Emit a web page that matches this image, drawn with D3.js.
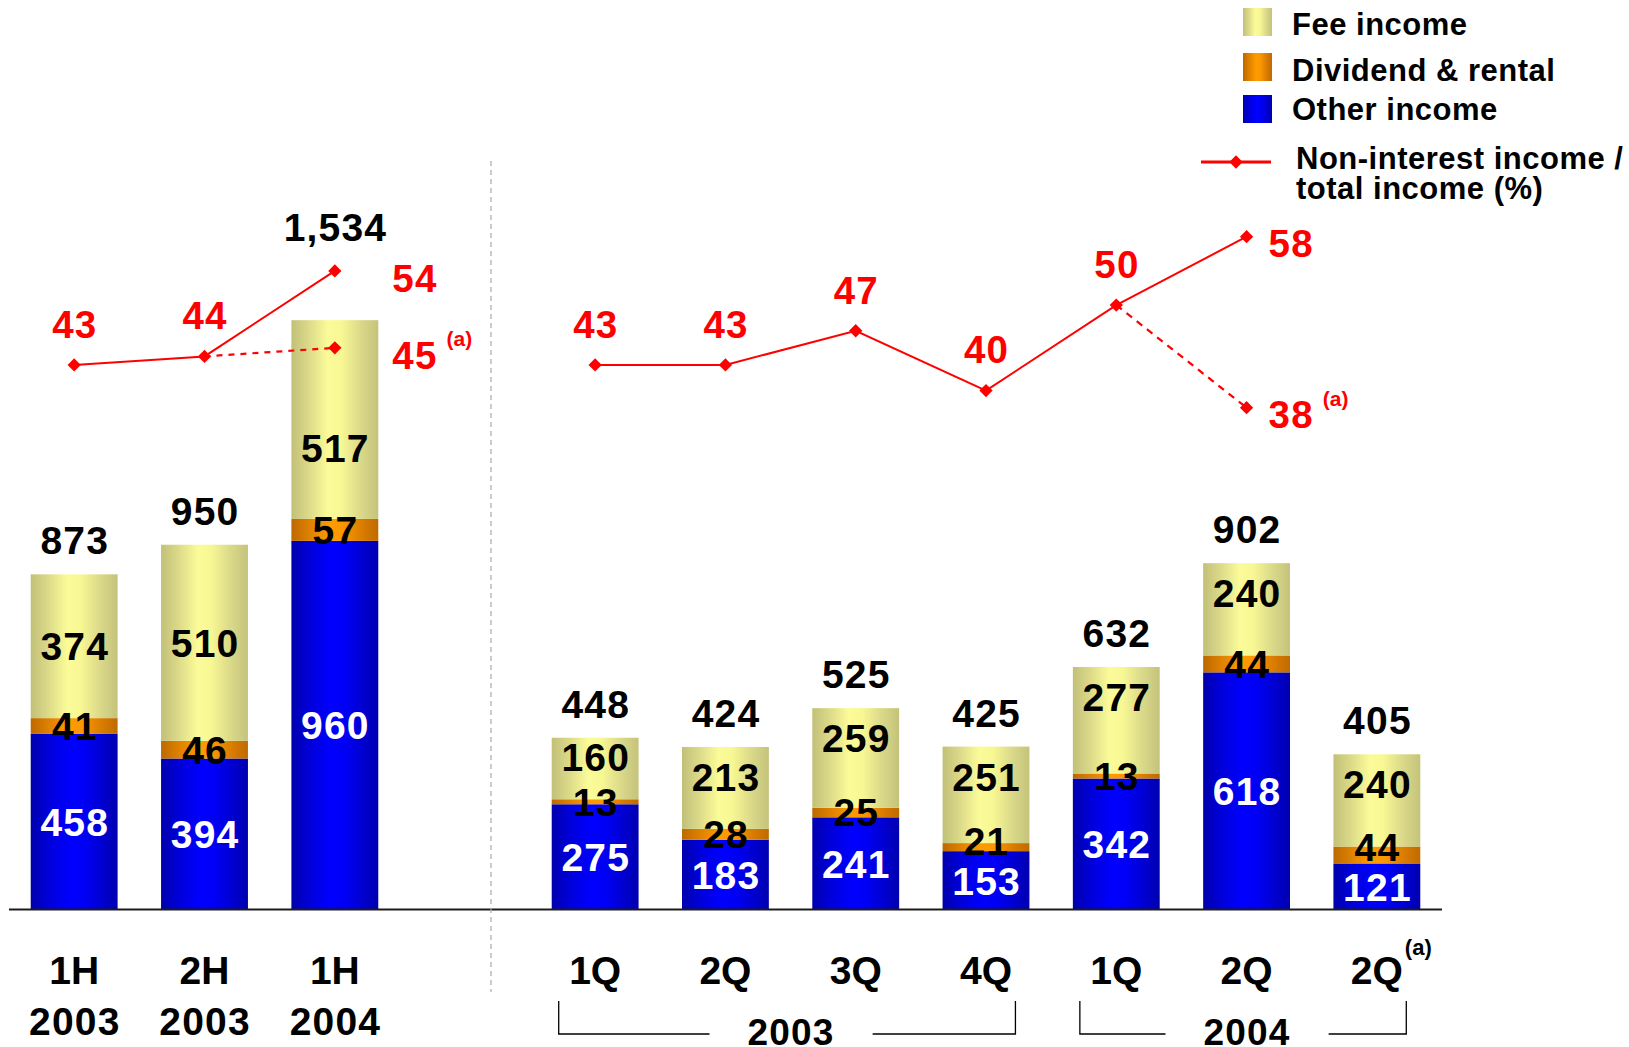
<!DOCTYPE html>
<html>
<head>
<meta charset="utf-8">
<script src="https://cdn.jsdelivr.net/npm/d3@7"></script>
<style>
  html, body { margin: 0; padding: 0; background: #fff; }
  svg { display: block; font-family: "Liberation Sans", Arial, Helvetica, sans-serif; font-weight: bold; }
</style>
</head>
<body>
<svg id="chart" width="1629" height="1047"></svg>
<script>
// ---- Half-year panel ----
const halfYears = ["1H 2003", "2H 2003", "1H 2004"];
const halfTickLines = [["1H", "2003"], ["2H", "2003"], ["1H", "2004"]];
const halfOther = [458, 394, 960];
const halfDividend = [41, 46, 57];
const halfFee = [374, 510, 517];
const halfTotal = [873, 950, 1534];
const halfRatio = [43, 44, 54];
const halfRatioAdjusted = 45;          // 1H 2004 restated, linked from 2H 2003

// ---- Quarterly panel ----
const quarters = ["1Q03", "2Q03", "3Q03", "4Q03", "1Q04", "2Q04", "2Q04a"];
const quarterTicks = ["1Q", "2Q", "3Q", "4Q", "1Q", "2Q", "2Q"];
const quarterOther = [275, 183, 241, 153, 342, 618, 121];
const quarterDividend = [13, 28, 25, 21, 13, 44, 44];
const quarterFee = [160, 213, 259, 251, 277, 240, 240];
const quarterTotal = [448, 424, 525, 425, 632, 902, 405];
const quarterRatio = [43, 43, 47, 40, 50, 58];   // 1Q03 .. 2Q04
const quarterRatioAdjusted = 38;                  // 2Q04 restated, linked from 1Q04
const yearGroups = [
  { label: "2003", from: "1Q03", to: "4Q03" },
  { label: "2004", from: "1Q04", to: "2Q04a" }
];

const seriesKeys = ["other", "dividend", "fee"];
const legendItems = [
  { key: "fee", label: "Fee income" },
  { key: "dividend", label: "Dividend & rental" },
  { key: "other", label: "Other income" }
];
const ratioLegendLines = ["Non-interest income /", "total income (%)"];

const RED = "#ff0000";
const svg = d3.select("#chart");

// ---- cylinder-style horizontal gradients ----
const gradStops = {
  fee: [[0, "#c2c078"], [0.18, "#d9d787"], [0.42, "#fbfb99"], [0.58, "#f7f794"], [0.82, "#d8d688"], [1, "#c5c37b"]],
  dividend: [[0, "#bd6900"], [0.2, "#dd8000"], [0.45, "#ff9b00"], [0.6, "#fa9600"], [0.85, "#d47800"], [1, "#bf6b00"]],
  other: [[0, "#0000ad"], [0.2, "#0000d8"], [0.45, "#0000ff"], [0.6, "#0000f8"], [0.85, "#0000cc"], [1, "#0000b0"]]
};
const defs = svg.append("defs");
Object.entries(gradStops).forEach(([k, stops]) => {
  const lg = defs.append("linearGradient").attr("id", "grad-" + k)
    .attr("x1", 0).attr("x2", 1).attr("y1", 0).attr("y2", 0);
  stops.forEach(([o, c]) => lg.append("stop").attr("offset", o).attr("stop-color", c));
});

// ---- scales ----
const xHalf = d3.scaleBand().domain(halfYears).range([9, 400]).paddingInner(1 / 3).paddingOuter(1 / 6);
const xQuarter = d3.scaleBand().domain(quarters).range([530, 1442]).paddingInner(1 / 3).paddingOuter(1 / 6);
const y = d3.scaleLinear().domain([0, 2000]).range([910, 141]);
const yPct = d3.scaleLinear().domain([0, 100]).range([732.6, -122.4]);

const baseY = 909.5;
const NUM_SIZE = 39, PCT_SIZE = 38.5, TICK_SIZE = 39, NUM_SPACING = 1.2;

// position of a label's baseline given the visual centre of its digits
const baselineFor = (centre, size) => centre + size * 0.358;

function numberText(g, x, cy, size, color, txt) {
  return g.append("text").attr("x", x + NUM_SPACING / 2).attr("y", baselineFor(cy, size))
    .attr("text-anchor", "middle").attr("font-size", size).attr("fill", color)
    .attr("letter-spacing", NUM_SPACING).text(txt);
}

function drawPanel(x, cats, other, dividend, fee, total, markerYs) {
  const rows = cats.map((c, i) => ({ cat: c, other: other[i], dividend: dividend[i], fee: fee[i], total: total[i] }));
  const stacked = d3.stack().keys(seriesKeys)(rows);
  const g = svg.append("g");

  g.selectAll("g.layer").data(stacked).join("g")
    .attr("class", "layer")
    .attr("fill", d => `url(#grad-${d.key})`)
    .selectAll("rect").data(d => d).join("rect")
    .attr("x", d => x(d.data.cat))
    .attr("width", x.bandwidth())
    .attr("y", d => y(d[1]))
    .attr("height", d => y(d[0]) - y(d[1]));

  // segment labels, kept clear of each other and of the ratio markers
  rows.forEach((r, i) => {
    const segs = stacked.map(s => [y(s[i][0]), y(s[i][1])]);   // [bottom, top] in px
    const mid = s => (s[0] + s[1]) / 2;
    const ms = markerYs[i] || [];
    const oy = mid(segs[0]);
    const dy = Math.min(mid(segs[1]), oy - 40);
    const fee = segs[2];
    let fy = mid(fee);
    const inside = ms.filter(m => m > fee[1] && m < fee[0]);
    if (inside.length) fy = (d3.max(inside) + 30 + fee[0]) / 2;
    else if (fee[0] - fee[1] < 120) fy = Math.min(fy, fee[1] + 30);
    fy = Math.min(fy, dy - 45);
    const cx = x(r.cat) + x.bandwidth() / 2;
    numberText(g, cx, oy, NUM_SIZE, "#fff", d3.format(",")(r.other));
    numberText(g, cx, dy, NUM_SIZE, "#000", d3.format(",")(r.dividend));
    numberText(g, cx, fy, NUM_SIZE, "#000", d3.format(",")(r.fee));

    // total above the bar, lifted over the ratio markers when they are in the way
    let ty = y(r.total) - 34;
    if (ms.some(m => Math.abs(ty - m) < 40)) ty = d3.min(ms) - 44;
    numberText(g, cx, ty, NUM_SIZE, "#000", d3.format(",")(r.total));
  });
  return rows;
}

function drawRatio(x, cats, ratio, adjusted, totals, dashArray) {
  const g = svg.append("g");
  const cx = c => x(c) + x.bandwidth() / 2;
  const pts = ratio.map((v, i) => ({ cat: cats[i], v }));
  const last = pts[pts.length - 1];
  const prev = pts[pts.length - 2];
  const adj = { cat: last.cat, v: adjusted };

  const line = d3.line().x(d => cx(d.cat)).y(d => yPct(d.v));
  g.append("path").attr("d", line([prev, adj])).attr("fill", "none")
    .attr("stroke", RED).attr("stroke-width", 2.2).attr("stroke-dasharray", dashArray);
  g.append("path").attr("d", line(pts)).attr("fill", "none")
    .attr("stroke", RED).attr("stroke-width", 2);

  const diamond = d3.symbol().type(d3.symbolSquare).size(88);
  g.selectAll("path.mk").data(pts.concat([adj])).join("path")
    .attr("class", "mk").attr("d", diamond).attr("fill", RED)
    .attr("transform", d => `translate(${cx(d.cat)},${yPct(d.v)}) rotate(45)`);

  // labels above the inner points
  pts.slice(0, -1).forEach(d => numberText(g, cx(d.cat), yPct(d.v) - 41, PCT_SIZE, RED, d.v));

  // end labels sit to the right; pushed past the bar if they would overlap it
  const barRight = x(last.cat) + x.bandwidth();
  const topOfBar = y(totals[cats.indexOf(last.cat)]);
  let startX = cx(last.cat) + 22;
  [last, adj].forEach(d => {
    if (yPct(d.v) + 6 + 14 > topOfBar) startX = Math.max(startX, barRight + 14);
  });
  [last, adj].forEach((d, k) => {
    const c = yPct(d.v) + 7;
    const t = g.append("text").attr("x", startX).attr("y", baselineFor(c, PCT_SIZE))
      .attr("font-size", PCT_SIZE).attr("fill", RED).attr("letter-spacing", NUM_SPACING).text(d.v);
    if (k === 1) {
      const w = t.node().getComputedTextLength();
      g.append("text").attr("x", startX + w + 9).attr("y", c - 9)
        .attr("font-size", 21).attr("fill", RED).text("(a)");
    }
  });
}

// marker heights per category, used to keep labels clear of the ratio line
const halfMarkers = halfYears.map((c, i) => {
  const m = [yPct(halfRatio[i])];
  if (i === halfYears.length - 1) m.push(yPct(halfRatioAdjusted));
  return m;
});
const quarterMarkers = quarters.map((c, i) => {
  if (i >= quarterRatio.length) return [];
  const m = [yPct(quarterRatio[i])];
  if (i === quarterRatio.length - 1) m.push(yPct(quarterRatioAdjusted));
  return m;
});

drawPanel(xHalf, halfYears, halfOther, halfDividend, halfFee, halfTotal, halfMarkers);
drawPanel(xQuarter, quarters, quarterOther, quarterDividend, quarterFee, quarterTotal, quarterMarkers);

// base line across both panels
svg.append("line")
  .attr("x1", xHalf.range()[0]).attr("x2", xQuarter.range()[1])
  .attr("y1", baseY).attr("y2", baseY)
  .attr("stroke", "#1c1c1c").attr("stroke-width", 2);

drawRatio(xHalf, halfYears, halfRatio, halfRatioAdjusted, halfTotal, "6,6");
drawRatio(xQuarter, quarters, quarterRatio, quarterRatioAdjusted, quarterTotal, "7,6");

// panel separator
svg.append("line").attr("x1", 491).attr("x2", 491).attr("y1", 161).attr("y2", 992)
  .attr("stroke", "#a9a9a9").attr("stroke-width", 1.2).attr("stroke-dasharray", "5,4");

// ---- category axes ----
function styleAxis(g) {
  g.attr("font-size", null).attr("font-family", null);
  g.select(".domain").remove();
  g.selectAll(".tick line").remove();
}
const axH = svg.append("g").attr("transform", `translate(0,${baseY})`)
  .call(d3.axisBottom(xHalf).tickSize(0));
styleAxis(axH);
axH.selectAll(".tick text").each(function (d, i) {
  const t = d3.select(this).text(null).attr("dy", null).attr("y", null)
    .attr("fill", "#000").attr("font-size", TICK_SIZE);
  t.append("tspan").attr("x", 0).attr("y", 74).text(halfTickLines[i][0]);
  t.append("tspan").attr("x", NUM_SPACING / 2).attr("y", 125).attr("letter-spacing", NUM_SPACING)
    .text(halfTickLines[i][1]);
});

const axQ = svg.append("g").attr("transform", `translate(0,${baseY})`)
  .call(d3.axisBottom(xQuarter).tickSize(0).tickFormat((d, i) => quarterTicks[i]));
styleAxis(axQ);
axQ.selectAll(".tick text").attr("dy", null).attr("y", 74).attr("fill", "#000").attr("font-size", TICK_SIZE);
axQ.selectAll(".tick").filter(d => d === "2Q04a").each(function () {
  const tick = d3.select(this);
  const w = tick.select("text").node().getComputedTextLength();
  tick.append("text").attr("x", w / 2 + 2).attr("y", 45).attr("text-anchor", "start")
    .attr("font-size", 22).attr("fill", "#000").text("(a)");
});

// year brackets under the quarters
yearGroups.forEach(gp => {
  const x0 = xQuarter(gp.from) + 7;
  const x1 = xQuarter(gp.to) + xQuarter.bandwidth() - 14;
  const xm = (x0 + x1) / 2 + 4;
  const t = svg.append("text").attr("x", xm).attr("y", 1045).attr("text-anchor", "middle")
    .attr("font-size", 37).attr("fill", "#000").attr("letter-spacing", NUM_SPACING).text(gp.label);
  const w = t.node().getComputedTextLength();
  const gap = 38;
  const yb = 1034;
  svg.append("path")
    .attr("d", `M${x0},1001V${yb}H${xm - w / 2 - gap}M${xm + w / 2 + gap},${yb}H${x1}V1001`)
    .attr("fill", "none").attr("stroke", "#000").attr("stroke-width", 1.3);
});

// ---- legend ----
const legend = svg.append("g").attr("letter-spacing", 0.5);
const swatchTops = [8, 53, 95];
const labelBaselines = [35, 81, 120];
legendItems.forEach((it, i) => {
  legend.append("rect").attr("x", 1243).attr("y", swatchTops[i]).attr("width", 29).attr("height", 28)
    .attr("fill", `url(#grad-${it.key})`);
  legend.append("text").attr("x", 1292).attr("y", labelBaselines[i]).attr("font-size", 31)
    .attr("fill", "#000").text(it.label);
});
legend.append("line").attr("x1", 1201).attr("x2", 1271).attr("y1", 162).attr("y2", 162)
  .attr("stroke", RED).attr("stroke-width", 3);
legend.append("path").attr("d", d3.symbol().type(d3.symbolSquare).size(88))
  .attr("transform", "translate(1236,162) rotate(45)").attr("fill", RED);
const ratioLabel = legend.append("text").attr("font-size", 31).attr("fill", "#000");
ratioLegendLines.forEach((ln, i) => {
  ratioLabel.append("tspan").attr("x", 1296).attr("y", 169 + i * 30).text(ln);
});
</script>
</body>
</html>
